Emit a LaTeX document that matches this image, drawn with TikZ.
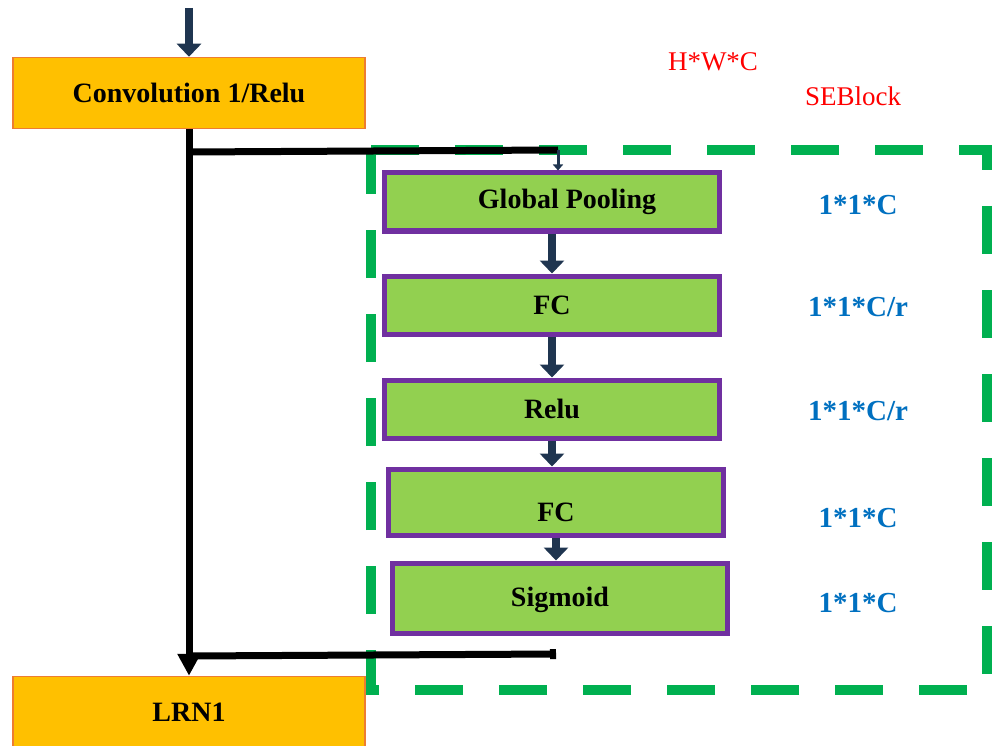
\documentclass[tikz,border=0pt]{standalone}
\usepackage{fontspec}
\setmainfont{Liberation Serif}
\usetikzlibrary{arrows.meta}
\definecolor{convfill}{HTML}{FFC000}
\definecolor{convedge}{HTML}{ED7D31}
\definecolor{sefill}{HTML}{92D050}
\definecolor{seedge}{HTML}{7030A0}
\definecolor{frameGreen}{HTML}{00B050}
\definecolor{flowNavy}{HTML}{1F3550}
\definecolor{dimBlue}{HTML}{0070C0}
\tikzset{
  convbox/.style={draw=convedge,fill=convfill,line width=1.5pt,minimum width=352pt,
    minimum height=71pt,inner sep=0pt,font=\fontsize{28}{32}\selectfont\bfseries},
  sebox/.style={draw=seedge,fill=sefill,line width=5pt,minimum width=335pt,
    minimum height=58pt,inner sep=0pt,font=\fontsize{28}{32}\selectfont\bfseries},
  flow/.style={flowNavy,line width=8pt,-{Triangle[length=13pt,width=24pt]}},
  tapflow/.style={flowNavy,line width=3pt,-{Triangle[length=6pt,width=10pt]}},
  trunk/.style={black,line width=7pt,-{Triangle[length=22pt,width=22pt]}},
  branch/.style={black,line width=7pt},
  seframe/.style={frameGreen,line width=10pt,dash pattern=on 48pt off 36pt},
  dimlabel/.style={dimBlue,font=\fontsize{29}{33}\selectfont\bfseries},
  redlabel/.style={red,font=\fontsize{27}{31}\selectfont}
}
\begin{document}
\begin{tikzpicture}[x=1pt,y=-1pt]
  \useasboundingbox (0,0) rectangle (993,746);
  % frame of the SE block
  \draw[seframe] (371,150) -- (987,150) -- (987,690) -- (371,690) -- cycle;
  % main path
  \node[convbox] (conv) at (189,93) {Convolution 1/Relu};
  \node[convbox] (lrn) at (189,712) {LRN1};
  \coordinate (in) at (189,8);
  \draw[flow] (in) -- (conv.north);
  \draw[trunk] (conv.south) -- (lrn.north);
  % SE block
  \node[sebox] (gp) at (552,202) {\hspace*{30pt}Global Pooling};
  \node[sebox] (fca) at (552,305) {FC};
  \node[sebox] (relu) at (552,409) {Relu};
  \node[sebox,minimum height=66pt,text height=40pt] (fcb) at (556,502) {FC};
  \node[sebox,minimum height=70pt,text height=24pt] (sig) at (560,598) {Sigmoid};
  \draw[flow] (gp.south) -- (gp.south |- fca.north);
  \draw[flow] (fca.south) -- (fca.south |- relu.north);
  \draw[flow] (relu.south) -- (relu.south |- fcb.north);
  \draw[flow] (fcb.south) -- (fcb.south |- sig.north);
  % branch in and out
  \coordinate (split) at (189,152);
  \coordinate (tap) at (558,150);
  \draw[branch] (split) -- (tap);
  \draw[tapflow] (tap) -- (gp.north -| tap);
  \coordinate (merge) at (189,656);
  \coordinate (back) at (556,654);
  \draw[branch,-{Square[length=6pt,width=10pt]}] (merge) -- (back);
  % sizes
  \node[dimlabel] (dgp) at (858,205) {1*1*C};
  \node[dimlabel] (dfca) at (858,307) {1*1*C/r};
  \node[dimlabel] (drelu) at (858,411) {1*1*C/r};
  \node[dimlabel] (dfcb) at (858,518) {1*1*C};
  \node[dimlabel] (dsig) at (858,603) {1*1*C};
  \node[redlabel] (hwc) at (713,62) {H*W*C};
  \node[redlabel] (seb) at (853,96) {SEBlock};
\end{tikzpicture}
\end{document}
